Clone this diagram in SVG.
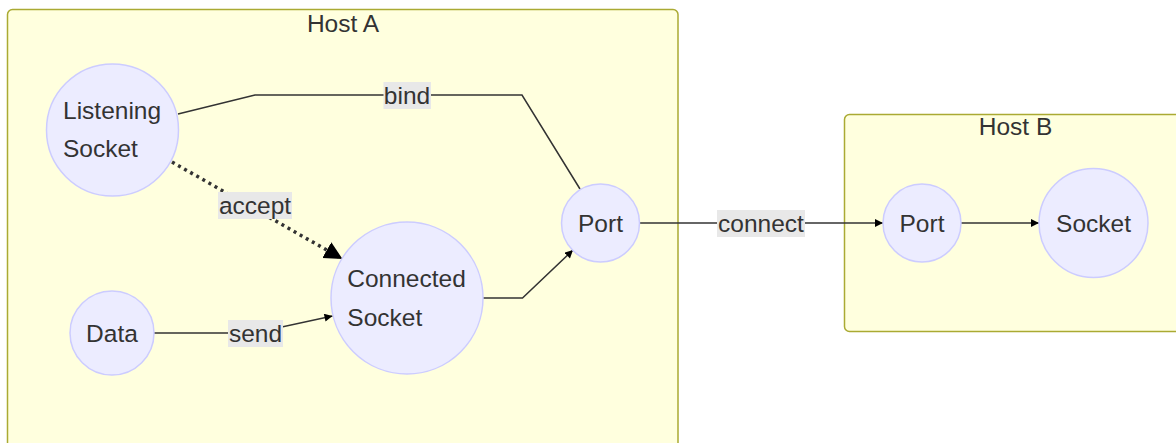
<svg xmlns="http://www.w3.org/2000/svg" width="1176" height="443" viewBox="0 0 1176 443">
  <style>
    text { font-family: "Liberation Sans", Arial, sans-serif; font-size: 24.5px; fill: #333333; }
    .cluster { fill: #ffffde; stroke: #aaaa33; stroke-width: 1.5; }
    .node { fill: #ececff; stroke: #ccccff; stroke-width: 1.5; }
    .edge { fill: none; stroke: #333333; stroke-width: 1.5; }
    .dotted { fill: none; stroke: #333333; stroke-width: 3.5; stroke-dasharray: 3 4; }
    .lbl { fill: #e8e8e8; }
    .c { text-anchor: middle; }
  </style>
  <defs>
    <marker id="arrow" viewBox="0 0 10 10" refX="10" refY="5" markerUnits="userSpaceOnUse" markerWidth="9" markerHeight="8" orient="auto">
      <path d="M0,0 L10,5 L0,10 z" fill="#000000"/>
    </marker>
    <marker id="arrowBig" viewBox="0 0 10 10" refX="10" refY="5" markerUnits="userSpaceOnUse" markerWidth="18" markerHeight="20" orient="auto">
      <path d="M0,0 L10,5 L0,10 z" fill="#000000"/>
    </marker>
  </defs>

  <!-- clusters -->
  <g id="hostA">
    <rect class="cluster" x="7.5" y="9.5" width="670.5" height="450" rx="5" ry="5"/>
    <text class="c" x="343" y="31.5">Host A</text>
  </g>
  <g id="hostB">
    <rect class="cluster" x="844.5" y="114.5" width="345" height="217" rx="5" ry="5"/>
    <text class="c" x="1015.5" y="135">Host B</text>
  </g>

  <!-- connectors -->
  <g id="edges">
    <path class="edge" d="M178,114 L255,95 L522,95 L580,189"/>
    <path class="dotted" d="M172,162 L342.5,259" marker-end="url(#arrowBig)"/>
    <path class="edge" d="M154,333 L254,333 L332.5,316" marker-end="url(#arrow)"/>
    <path class="edge" d="M483,298 L522.5,298 L573,250" marker-end="url(#arrow)"/>
    <path class="edge" d="M639.5,223 L883,223" marker-end="url(#arrow)"/>
    <path class="edge" d="M961,223 L1039,223" marker-end="url(#arrow)"/>

    <rect class="lbl" x="383.5" y="82" width="47.5" height="27"/>
    <text class="c" x="407" y="103.7">bind</text>
    <rect class="lbl" x="218" y="192" width="74" height="27"/>
    <text class="c" x="255" y="214">accept</text>
    <rect class="lbl" x="228" y="320" width="55" height="27"/>
    <text class="c" x="255.5" y="341.7">send</text>
    <rect class="lbl" x="717" y="210" width="88" height="27"/>
    <text class="c" x="761" y="231.7">connect</text>
  </g>

  <!-- nodes -->
  <g id="listeningSocket">
    <circle class="node" cx="112.5" cy="130" r="66"/>
    <text x="63" y="119.3">Listening</text>
    <text x="63" y="157.3">Socket</text>
  </g>
  <g id="connectedSocket">
    <circle class="node" cx="407" cy="298" r="76"/>
    <text x="347.3" y="287.3">Connected</text>
    <text x="347.3" y="325.7">Socket</text>
  </g>
  <g id="data">
    <circle class="node" cx="112" cy="333" r="42"/>
    <text class="c" x="112" y="341.7">Data</text>
  </g>
  <g id="portA">
    <circle class="node" cx="600.5" cy="223" r="39"/>
    <text class="c" x="600.5" y="231.7">Port</text>
  </g>
  <g id="portB">
    <circle class="node" cx="922" cy="223" r="39"/>
    <text class="c" x="922" y="231.7">Port</text>
  </g>
  <g id="socketB">
    <circle class="node" cx="1093.5" cy="223" r="54.5"/>
    <text class="c" x="1093.5" y="231.7">Socket</text>
  </g>
</svg>
